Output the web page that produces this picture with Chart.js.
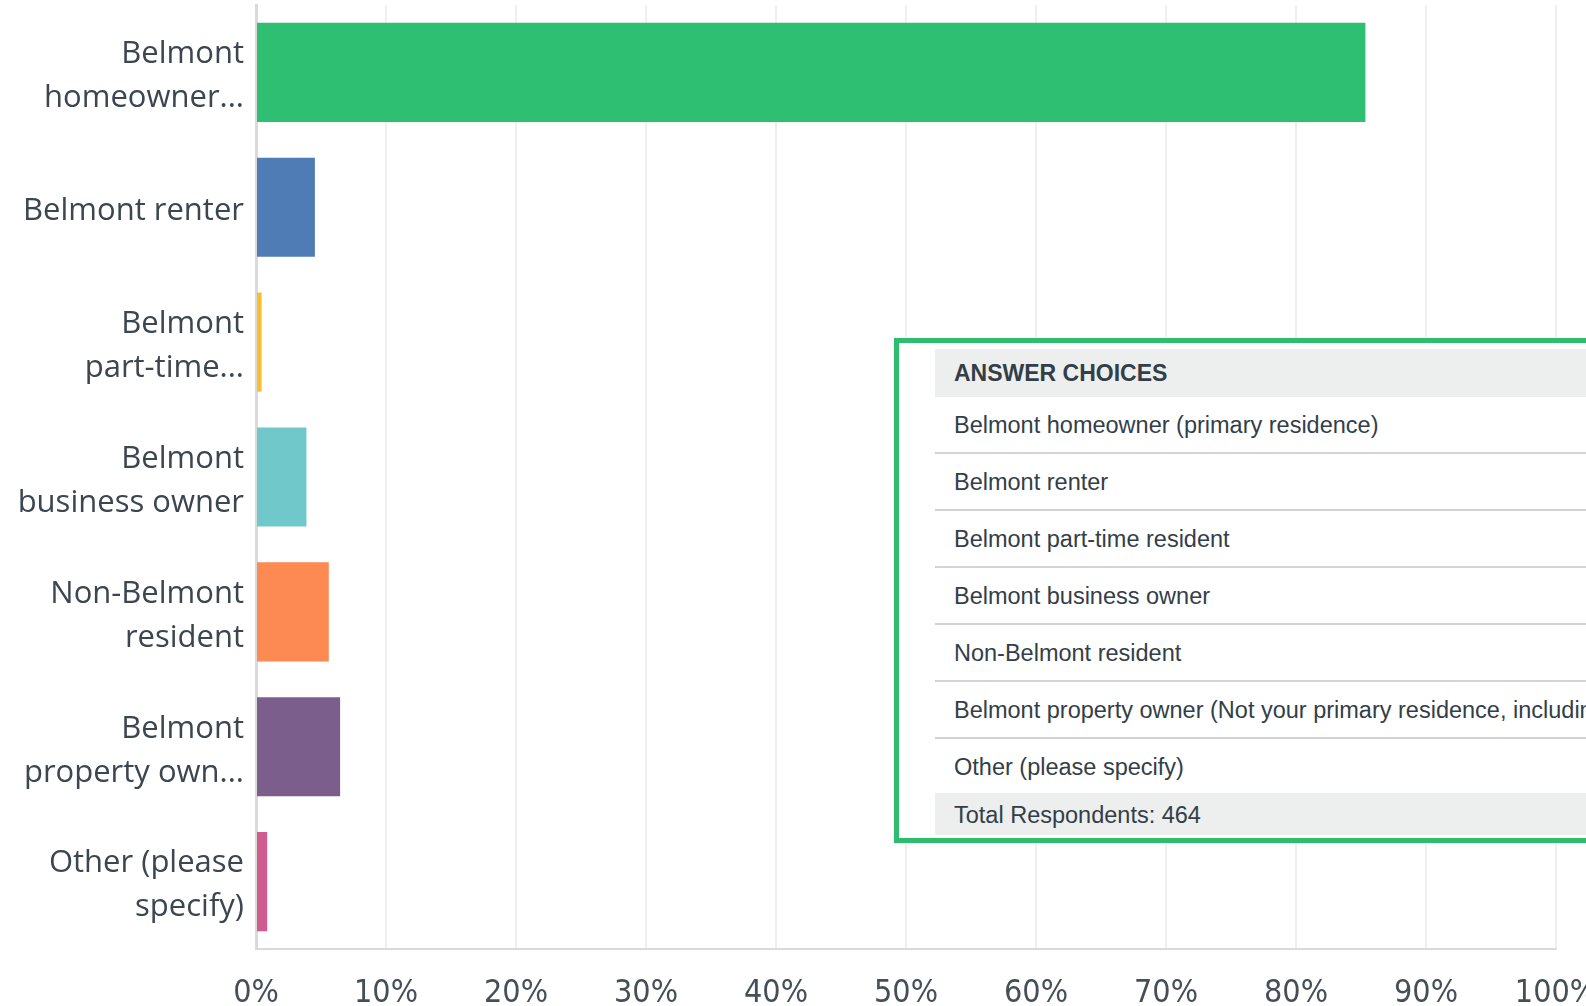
<!DOCTYPE html>
<html>
<head>
<meta charset="utf-8">
<script src="https://cdn.jsdelivr.net/npm/chart.js@4/dist/chart.umd.min.js"></script>
<style>
  html, body { margin: 0; padding: 0; background: #fff; overflow: hidden; }
  #wrap { position: relative; width: 1586px; height: 1006px; overflow: hidden; }
  #chart { position: absolute; left: 0; top: 0; }
  #answers {
    position: absolute; left: 894px; top: 338px; width: 760px; height: 489px;
    border: 5px solid #2ebd6f; background: #fff; padding: 6px 0 0 36px;
    font-family: "Liberation Sans", Arial, sans-serif; color: #333e48;
  }
  #answers div { box-sizing: border-box; padding-left: 19px; white-space: nowrap; }
  #answers .head { height: 48px; line-height: 48px; background: #edeeee; font-weight: bold; font-size: 23px; }
  #answers .row { height: 57px; line-height: 56px; font-size: 23.5px; border-bottom: 2px solid #d2d3d5; }
  #answers .row.last { height: 54px; line-height: 56px; border-bottom: none; }
  #answers .foot { height: 42px; line-height: 44px; background: #edeeee; font-size: 23.5px; }
</style>
</head>
<body>
<div id="wrap">
  <canvas id="chart" width="1586" height="1006"></canvas>
  <div id="answers"></div>
</div>
<script>
  // axis labels (truncated the way the survey tool shows them)
  const categories = [
    ["Belmont", "homeowner..."],
    "Belmont renter",
    ["Belmont", "part-time..."],
    ["Belmont", "business owner"],
    ["Non-Belmont", "resident"],
    ["Belmont", "property own..."],
    ["Other (please", "specify)"]
  ];
  // full answer text for the table
  const answerChoices = [
    "Belmont homeowner (primary residence)",
    "Belmont renter",
    "Belmont part-time resident",
    "Belmont business owner",
    "Non-Belmont resident",
    "Belmont property owner (Not your primary residence, including rental property)",
    "Other (please specify)"
  ];
  const percents = [85.34, 4.53, 0.43, 3.88, 5.60, 6.47, 0.86];
  const totalRespondents = 464;
  const barColors = ["#2fbf73", "#4f7cb4", "#f9be2e", "#71c8cb", "#fd8a52", "#7b5e8b", "#d05b8e"];

  // answer table
  const box = document.getElementById("answers");
  let html = '<div class="head">ANSWER CHOICES</div>';
  answerChoices.forEach((a, i) => {
    const cls = i === answerChoices.length - 1 ? "row last" : "row";
    html += '<div class="' + cls + '">' + a + '</div>';
  });
  html += '<div class="foot">Total Respondents: ' + totalRespondents + '</div>';
  box.innerHTML = html;

  const ctx = document.getElementById("chart").getContext("2d");

  new Chart(ctx, {
    type: "bar",
    data: {
      labels: categories,
      datasets: [
        {
          data: percents,
          backgroundColor: barColors,
          borderWidth: 0,
          barPercentage: 0.735,
          categoryPercentage: 1
        }
      ]
    },
    options: {
      indexAxis: "y",
      responsive: false,
      animation: false,
      layout: { padding: { top: 5, right: 30, left: 0, bottom: 0 } },
      plugins: {
        legend: { display: false },
        tooltip: { enabled: false }
      },
      scales: {
        x: {
          min: 0,
          max: 100,
          ticks: {
            stepSize: 10,
            padding: 25,
            color: "#454f57",
            font: { family: "'Liberation Sans Narrow', 'DejaVu Sans Condensed', sans-serif", size: 32 },
            callback: (v) => v + "%"
          },
          grid: { color: "#efefef", lineWidth: 2, drawTicks: false },
          border: { color: "#dadada", width: 2 },
          afterFit: (scale) => {
            scale.height = 57;
            scale.paddingLeft = 0;
            scale.paddingRight = 0;
          }
        },
        y: {
          ticks: {
            padding: 12,
            labelOffset: 4,
            color: "#3b4650",
            font: { family: "'Open Sans', sans-serif", size: 31, lineHeight: 1.42 }
          },
          grid: { display: false, drawTicks: false },
          border: { color: "#dadada", width: 3 },
          afterFit: (scale) => {
            scale.width = 256;
            scale.paddingTop = 0;
            scale.paddingBottom = 0;
          }
        }
      }
    }
  });
</script>
</body>
</html>
